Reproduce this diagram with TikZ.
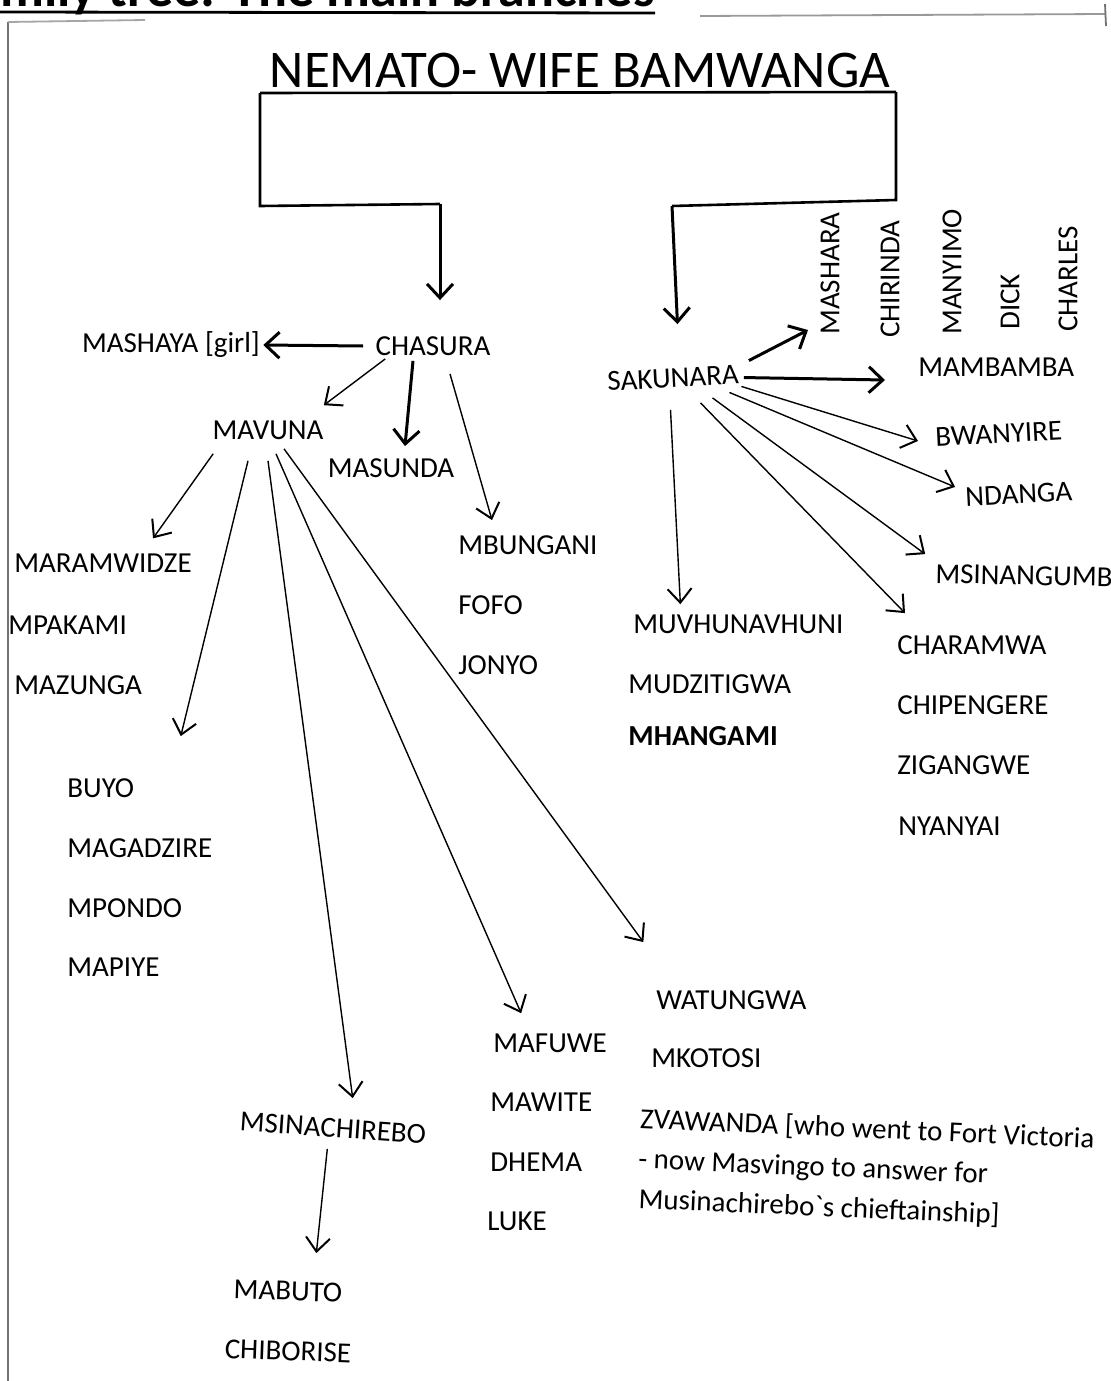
\documentclass[tikz,border=0pt]{standalone}
\usepackage{fontspec}
\setmainfont{Carlito}
\usetikzlibrary{arrows.meta,calc}
\tikzset{
  nm/.style={font=\fontsize{14.5}{16}\selectfont, inner sep=0pt},
  nmw/.style={nm, anchor=west},
  vert/.style={nm, rotate=90, anchor=west},
  heavy/.style={line width=1.5pt, -{Straight Barb[length=7pt,width=13pt,line width=1.5pt]}},
  fine/.style={line width=0.7pt, -{Straight Barb[length=7pt,width=12pt,line width=1pt]}},
  bracket/.style={line width=1.3pt},
  border/.style={black!55, line width=0.9pt},
}
\begin{document}
\begin{tikzpicture}[x=0.5pt,y=-0.5pt]
\useasboundingbox (0,0) rectangle (1110,1381);
\fill[white] (0,0) rectangle (1110,1381);

% cropped page heading and page frame
\node[font=\fontsize{27}{30}\selectfont\bfseries, inner sep=0pt, anchor=base east] (heading) at (655,6) {Family tree: The main branches};
\draw[line width=1.4pt] (0,12) -- (heading.base east |- 0,13);
\draw[border] (8,22) -- (8,1381);
\draw[border, black!35] (8,22) -- (145,20);
\draw[border, black!40] (700,16) -- (1105,14);
\draw[border] (1105,4) -- (1106,26);

% root
\node[font=\fontsize{26.5}{30}\selectfont, inner sep=0pt] (root) at (580,70) {NEMATO- WIFE BAMWANGA};
\coordinate (ul) at (260,93);
\coordinate (ur) at (896,92);
\coordinate (lb) at (260,206);
\coordinate (lc) at (440,204);
\coordinate (rb) at (896,200);
\coordinate (rc) at (672,206);

% level 1
\node[nm] (chasura) at (433,346) {CHASURA};
\node[nm, rotate=3] (sakunara) at (673,378) {SAKUNARA};

\draw[bracket] (ul) -- (ur);
\draw[bracket] (ul) -- (lb) -- (lc);
\draw[bracket] (ur) -- (rb) -- (rc);
\draw[heavy] (lc) -- ($(chasura.north)+(7,-36)$);
\draw[heavy] (rc) -- ($(sakunara.north)+(5,-44)$);

% children of CHASURA
\node[nm] (mashaya) at (171,345) {MASHAYA [girl]};
\node[nm] (mavuna) at (268,430) {MAVUNA};
\node[nm] (masunda) at (391,468) {MASUNDA};
\node[nmw] (mbungani) at (458,545) {MBUNGANI};
\node[nmw] (fofo) at (458,605) {FOFO};
\node[nmw] (jonyo) at (458,665) {JONYO};

\draw[heavy] ($(chasura.west)+(-12,0)$) -- ($(mashaya.east)+(3,0)$);
\draw[fine] ($(chasura.south west)+(10,3)$) -- ($(mavuna.north east)+(0,-15)$);
\draw[heavy] ($(chasura.south)+(-20,5)$) -- ($(masunda.north)+(14,-12)$);
\draw[fine] ($(chasura.south)+(17,18)$) -- ($(mbungani.north west)+(34,-15)$);

% children of MAVUNA
\node[nmw] (maramwidze) at (14,563) {MARAMWIDZE};
\node[nmw] (mpakami) at (8,625) {MPAKAMI};
\node[nmw] (mazunga) at (14,685) {MAZUNGA};

\node[nmw] (buyo) at (67,788) {BUYO};
\node[nmw] (magadzire) at (67,848) {MAGADZIRE};
\node[nmw] (mpondo) at (67,908) {MPONDO};
\node[nmw] (mapiye) at (67,967) {MAPIYE};

\node[nm, rotate=-4] (msinachirebo) at (333,1128) {MSINACHIREBO};
\node[nm, rotate=-2] (mabuto) at (288,1291) {MABUTO};
\node[nm, rotate=-2] (chiborise) at (288,1351) {CHIBORISE};

\node[nmw] (mafuwe) at (493,1043) {MAFUWE};
\node[nmw] (mawite) at (490,1102) {MAWITE};
\node[nmw] (dhema) at (490,1162) {DHEMA};
\node[nmw] (luke) at (487,1221) {LUKE};

\node[nmw] (watungwa) at (656,1000) {WATUNGWA};
\node[nmw] (mkotosi) at (651,1058) {MKOTOSI};
\node[nmw, rotate=-2.5, align=left, font=\fontsize{14.5}{20}\selectfont] (zvawanda) at (638,1160)
  {ZVAWANDA [who went to Fort Victoria\\- now Masvingo to answer for\\\hspace*{1pt}Musinachirebo\textasciigrave s chieftainship]};

\draw[fine] ($(mavuna.south west)+(1,14)$) -- ($(maramwidze.north)+(50,-15)$);
\draw[fine] ($(mavuna.south)+(-20,21)$) -- ($(buyo.north)+(80,-42)$);
\draw[fine] ($(mavuna.south)+(0,21)$) -- ($(msinachirebo.north)+(19,-20)$);
\draw[fine] ($(mavuna.south)+(8,14)$) -- ($(mafuwe.north)+(-29,-20)$);
\draw[fine] ($(mavuna.south)+(16,9)$) -- ($(watungwa.north)+(-88,-48)$);
\draw[fine] ($(msinachirebo.south)+(-5,11)$) -- ($(mabuto.north)+(28,-28)$);

% children of SAKUNARA
\node[vert] (mashara) at (830,335) {MASHARA};
\node[vert] (chirinda) at (890,338) {CHIRINDA};
\node[vert] (manyimo) at (952,335) {MANYIMO};
\node[vert] (dick) at (1010,330) {DICK};
\node[vert] (charles) at (1068,332) {CHARLES};

\node[nmw] (mambamba) at (918,367) {MAMBAMBA};
\node[nmw, rotate=3] (bwanyire) at (935,437) {BWANYIRE};
\node[nmw, rotate=3] (ndanga) at (965,497) {NDANGA};
\node[nmw, rotate=-1] (msinangumb) at (935,574) {MSINANGUMB};

\node[nmw] (charamwa) at (897,645) {CHARAMWA};
\node[nmw] (chipengere) at (897,705) {CHIPENGERE};
\node[nmw] (zigangwe) at (897,765) {ZIGANGWE};
\node[nmw] (nyanyai) at (898,826) {NYANYAI};

\node[nmw] (muvhunavhuni) at (633,624) {MUVHUNAVHUNI};
\node[nmw] (mudzitigwa) at (628,684) {MUDZITIGWA};
\node[nmw, font=\fontsize{14.5}{16}\selectfont\bfseries] (mhangami) at (628,736) {MHANGAMI};

\draw[heavy] ($(sakunara.east)+(10,-14)$) -- ($(mashara.west)+(-22,-5)$);
\draw[heavy] ($(sakunara.east)+(5,3)$) -- ($(mambamba.west)+(-33,13)$);
\draw[fine] ($(sakunara.south east)+(2,2)$) -- ($(bwanyire.west)+(-17,4)$);
\draw[fine] ($(sakunara.south east)+(-10,8)$) -- ($(ndanga.west)+(-10,-10)$);
\draw[fine] ($(sakunara.south)+(39,10)$) -- ($(msinangumb.north west)+(-10,-10)$);
\draw[fine] ($(sakunara.south)+(27,15)$) -- ($(charamwa.north west)+(8,-22)$);
\draw[fine] ($(sakunara.south)+(-3,22)$) -- ($(muvhunavhuni.north)+(-58,-10)$);
\end{tikzpicture}
\end{document}
